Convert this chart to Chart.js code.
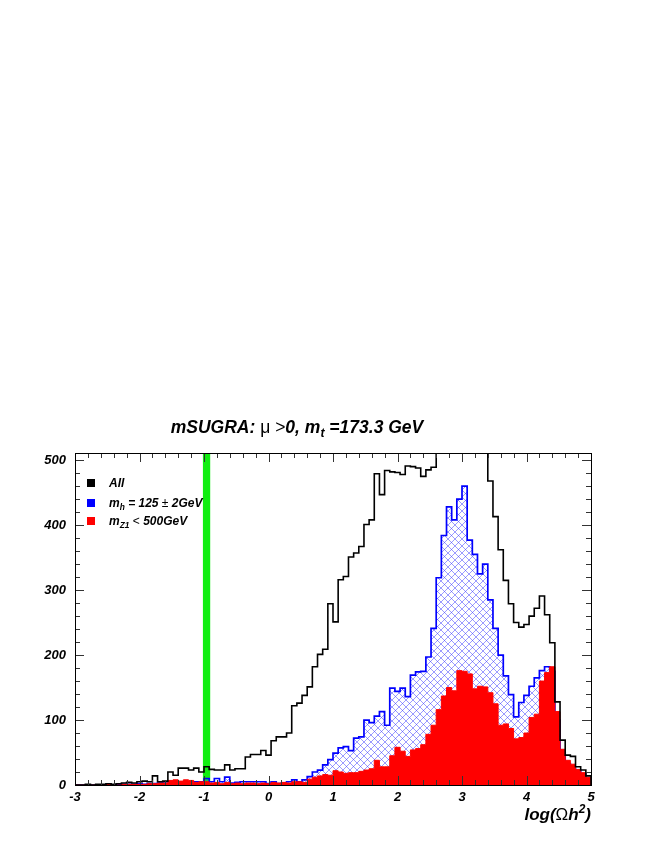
<!DOCTYPE html>
<html>
<head>
<meta charset="utf-8">
<script src="https://cdn.jsdelivr.net/npm/chart.js@4.4.0/dist/chart.umd.min.js"></script>
<style>
  body { margin: 0; background: #fff; }
  #wrap { position: relative; width: 654px; height: 846px; }
  .txt { position: absolute; font-family: 'Liberation Sans', Arial, sans-serif; font-weight: bold; font-style: italic; color: #000; white-space: nowrap; }
  .sym { font-weight: normal; font-style: normal; }
  sub, sup { font-size: 0.7em; line-height: 0; }
  sub { vertical-align: -0.35em; }
  sup { vertical-align: 0.6em; }
  .leg { font-size: 12px; line-height: 14px; left: 87px; }
  .box { display: inline-block; width: 8px; height: 8px; margin-right: 14px; vertical-align: 0px; }
</style>
</head>
<body>
<div id="wrap">
  <canvas id="chart" width="654" height="846"></canvas>
  <div class="txt" style="left:0; width:594px; top:417px; text-align:center; font-size:17.5px;">mSUGRA: <span class="sym">μ &gt;</span>0, m<sub>t</sub> =173.3 GeV</div>
  <div class="txt leg" style="top:476px;"><span class="box" style="background:#000"></span>All</div>
  <div class="txt leg" style="top:496px;"><span class="box" style="background:#0000ff"></span>m<sub>h</sub> = 125 <span class="sym">±</span> 2GeV</div>
  <div class="txt leg" style="top:514px;"><span class="box" style="background:#ff0000"></span>m<sub>Z1</sub> <span class="sym">&lt;</span> 500GeV</div>
  <div class="txt" style="right:63px; top:805px; font-size:17px;">log(<span class="sym">Ω</span>h<sup>2</sup>)</div>
</div>
<script>
// histogramme : 100 bins de -3 a 5
const binLo = -3;
const binHi = 5;
const nBins = 100;
const yMax = 511;
const xTicks = [-3, -2, -1, 0, 1, 2, 3, 4, 5];

// bande verte (WMAP)
const greenBand = [-1.02, -0.9];

// tous les points
const allCounts = [
  0, 0, 1, 0, 1, 1, 2, 1, 2, 3,
  4, 3, 5, 6, 5, 14, 5, 6, 20, 15,
  26, 26, 23, 26, 20, 28, 24, 23, 23, 31,
  23, 25, 25, 43, 47, 47, 53, 46, 68, 74,
  74, 80, 122, 126, 138, 151, 182, 201, 209, 279,
  251, 316, 321, 351, 357, 367, 401, 408, 479, 447,
  484, 482, 481, 478, 491, 490, 488, 475, 485, 489,
  530, 560, 600, 640, 660, 680, 650, 610, 570, 530,
  468, 413, 362, 315, 279, 250, 243, 247, 260, 272,
  291, 262, 219, 128, 69, 46, 44, 28, 23, 14
];

// m_h = 125 +- 2 GeV
const higgsCounts = [
  0, 0, 0, 0, 0, 0, 1, 0, 1, 1,
  1, 1, 2, 1, 2, 2, 3, 3, 3, 4,
  4, 3, 5, 5, 5, 10, 5, 10, 5, 12,
  3, 4, 5, 5, 5, 5, 5, 2, 5, 2,
  3, 5, 8, 5, 8, 13, 20, 23, 31, 39,
  49, 57, 59, 53, 72, 74, 100, 96, 106, 113,
  92, 149, 144, 149, 136, 169, 174, 175, 197, 241,
  319, 384, 428, 408, 440, 460, 377, 355, 325, 340,
  285, 241, 200, 168, 139, 105, 127, 138, 152, 165,
  176, 182, 175, 100, 50, 33, 28, 22, 17, 10
];

// m_Z1 < 500 GeV
const z1Counts = [
  0, 0, 0, 0, 0, 0, 1, 0, 0, 1,
  1, 1, 1, 1, 2, 2, 3, 3, 7, 8,
  6, 8, 7, 4, 5, 5, 3, 4, 2, 4,
  2, 3, 2, 3, 3, 2, 3, 2, 4, 3,
  4, 3, 5, 5, 4, 9, 12, 14, 16, 15,
  22, 20, 18, 19, 19, 21, 23, 25, 38, 28,
  28, 45, 58, 52, 44, 54, 56, 62, 78, 92,
  116, 137, 150, 145, 176, 175, 171, 148, 152, 151,
  142, 125, 92, 94, 87, 71, 73, 80, 104, 109,
  160, 173, 182, 113, 55, 38, 32, 24, 19, 12
];

const binW = (binHi - binLo) / nBins;

// transforme les contenus en points pour une ligne en escalier
const stepPoints = (vals) => {
  const pts = [{ x: binLo, y: 0 }];
  vals.forEach((v, i) => pts.push({ x: binLo + i * binW, y: v }));
  pts.push({ x: binHi, y: vals[vals.length - 1] });
  pts.push({ x: binHi, y: 0 });
  return pts;
};

// motif hachure croisee bleue
const hatch = (() => {
  const s = 7;
  const c = document.createElement('canvas');
  c.width = s; c.height = s;
  const g = c.getContext('2d');
  g.strokeStyle = 'rgba(50,50,255,0.7)';
  g.lineWidth = 0.7;
  g.beginPath();
  g.moveTo(0, 0); g.lineTo(s, s);
  g.moveTo(s, 0); g.lineTo(0, s);
  g.stroke();
  return g.createPattern(c, 'repeat');
})();

const font = { family: "'Liberation Sans', Arial, sans-serif", size: 13, weight: 'bold', style: 'italic' };

// cadre + graduations a l'interieur (style ROOT)
const framePlugin = {
  id: 'frame',
  afterDatasetsDraw(chart) {
    const { ctx, chartArea: a, scales: { x, y } } = chart;
    ctx.save();
    ctx.strokeStyle = '#333';
    ctx.lineWidth = 1;
    ctx.beginPath();
    for (let k = 0; k <= 40; k++) {
      const px = Math.round(x.getPixelForValue(binLo + k * 0.2)) + 0.5;
      const len = k % 5 === 0 ? 9 : 5;
      ctx.moveTo(px, a.bottom); ctx.lineTo(px, a.bottom - len);
      ctx.moveTo(px, a.top); ctx.lineTo(px, a.top + len);
    }
    for (let k = 0; k * 20 <= yMax; k++) {
      const py = Math.round(y.getPixelForValue(k * 20)) + 0.5;
      const len = k % 5 === 0 ? 9 : 5;
      ctx.moveTo(a.left, py); ctx.lineTo(a.left + len, py);
      ctx.moveTo(a.right, py); ctx.lineTo(a.right - len, py);
    }
    ctx.stroke();
    ctx.strokeStyle = '#000';
    ctx.strokeRect(Math.round(a.left) + 0.5, Math.round(a.top) + 0.5,
      Math.round(a.right - a.left), Math.round(a.bottom - a.top));
    ctx.restore();
  }
};

const line = (pts, opts) => Object.assign({
  data: pts, stepped: true, pointRadius: 0, pointHoverRadius: 0, tension: 0, clip: 0
}, opts);

new Chart(document.getElementById('chart'), {
  type: 'line',
  data: {
    datasets: [
      line(stepPoints(allCounts), { borderColor: '#000', borderWidth: 1.6, fill: false, order: 1 }),
      line(stepPoints(z1Counts), { borderColor: '#ff0000', borderWidth: 1, backgroundColor: '#ff0000', fill: 'origin', order: 2 }),
      line(stepPoints(higgsCounts), { borderColor: '#0000ff', borderWidth: 1.7, backgroundColor: hatch, fill: 'origin', order: 3 }),
      line([{ x: greenBand[0], y: yMax }, { x: greenBand[1], y: yMax }],
        { borderWidth: 0, borderColor: 'rgba(0,0,0,0)', backgroundColor: '#11ee11', fill: 'origin', stepped: false, order: 4 })
    ]
  },
  options: {
    responsive: false,
    animation: false,
    events: [],
    layout: { padding: { left: 30, right: 63, top: 453, bottom: 31 } },
    plugins: { legend: { display: false }, tooltip: { enabled: false } },
    scales: {
      x: {
        type: 'linear', min: binLo, max: binHi,
        grid: { display: false, drawTicks: false },
        border: { display: false },
        afterFit: (s) => { s.height = 30; },
        afterBuildTicks: (s) => { s.ticks = xTicks.map(v => ({ value: v })); },
        ticks: { font, color: '#000', padding: 5, maxRotation: 0 }
      },
      y: {
        min: 0, max: yMax,
        grid: { display: false, drawTicks: false },
        border: { display: false },
        afterFit: (s) => { s.width = 45; },
        ticks: { stepSize: 100, includeBounds: false, font, color: '#000', padding: 9 }
      }
    }
  },
  plugins: [framePlugin]
});
</script>
</body>
</html>
